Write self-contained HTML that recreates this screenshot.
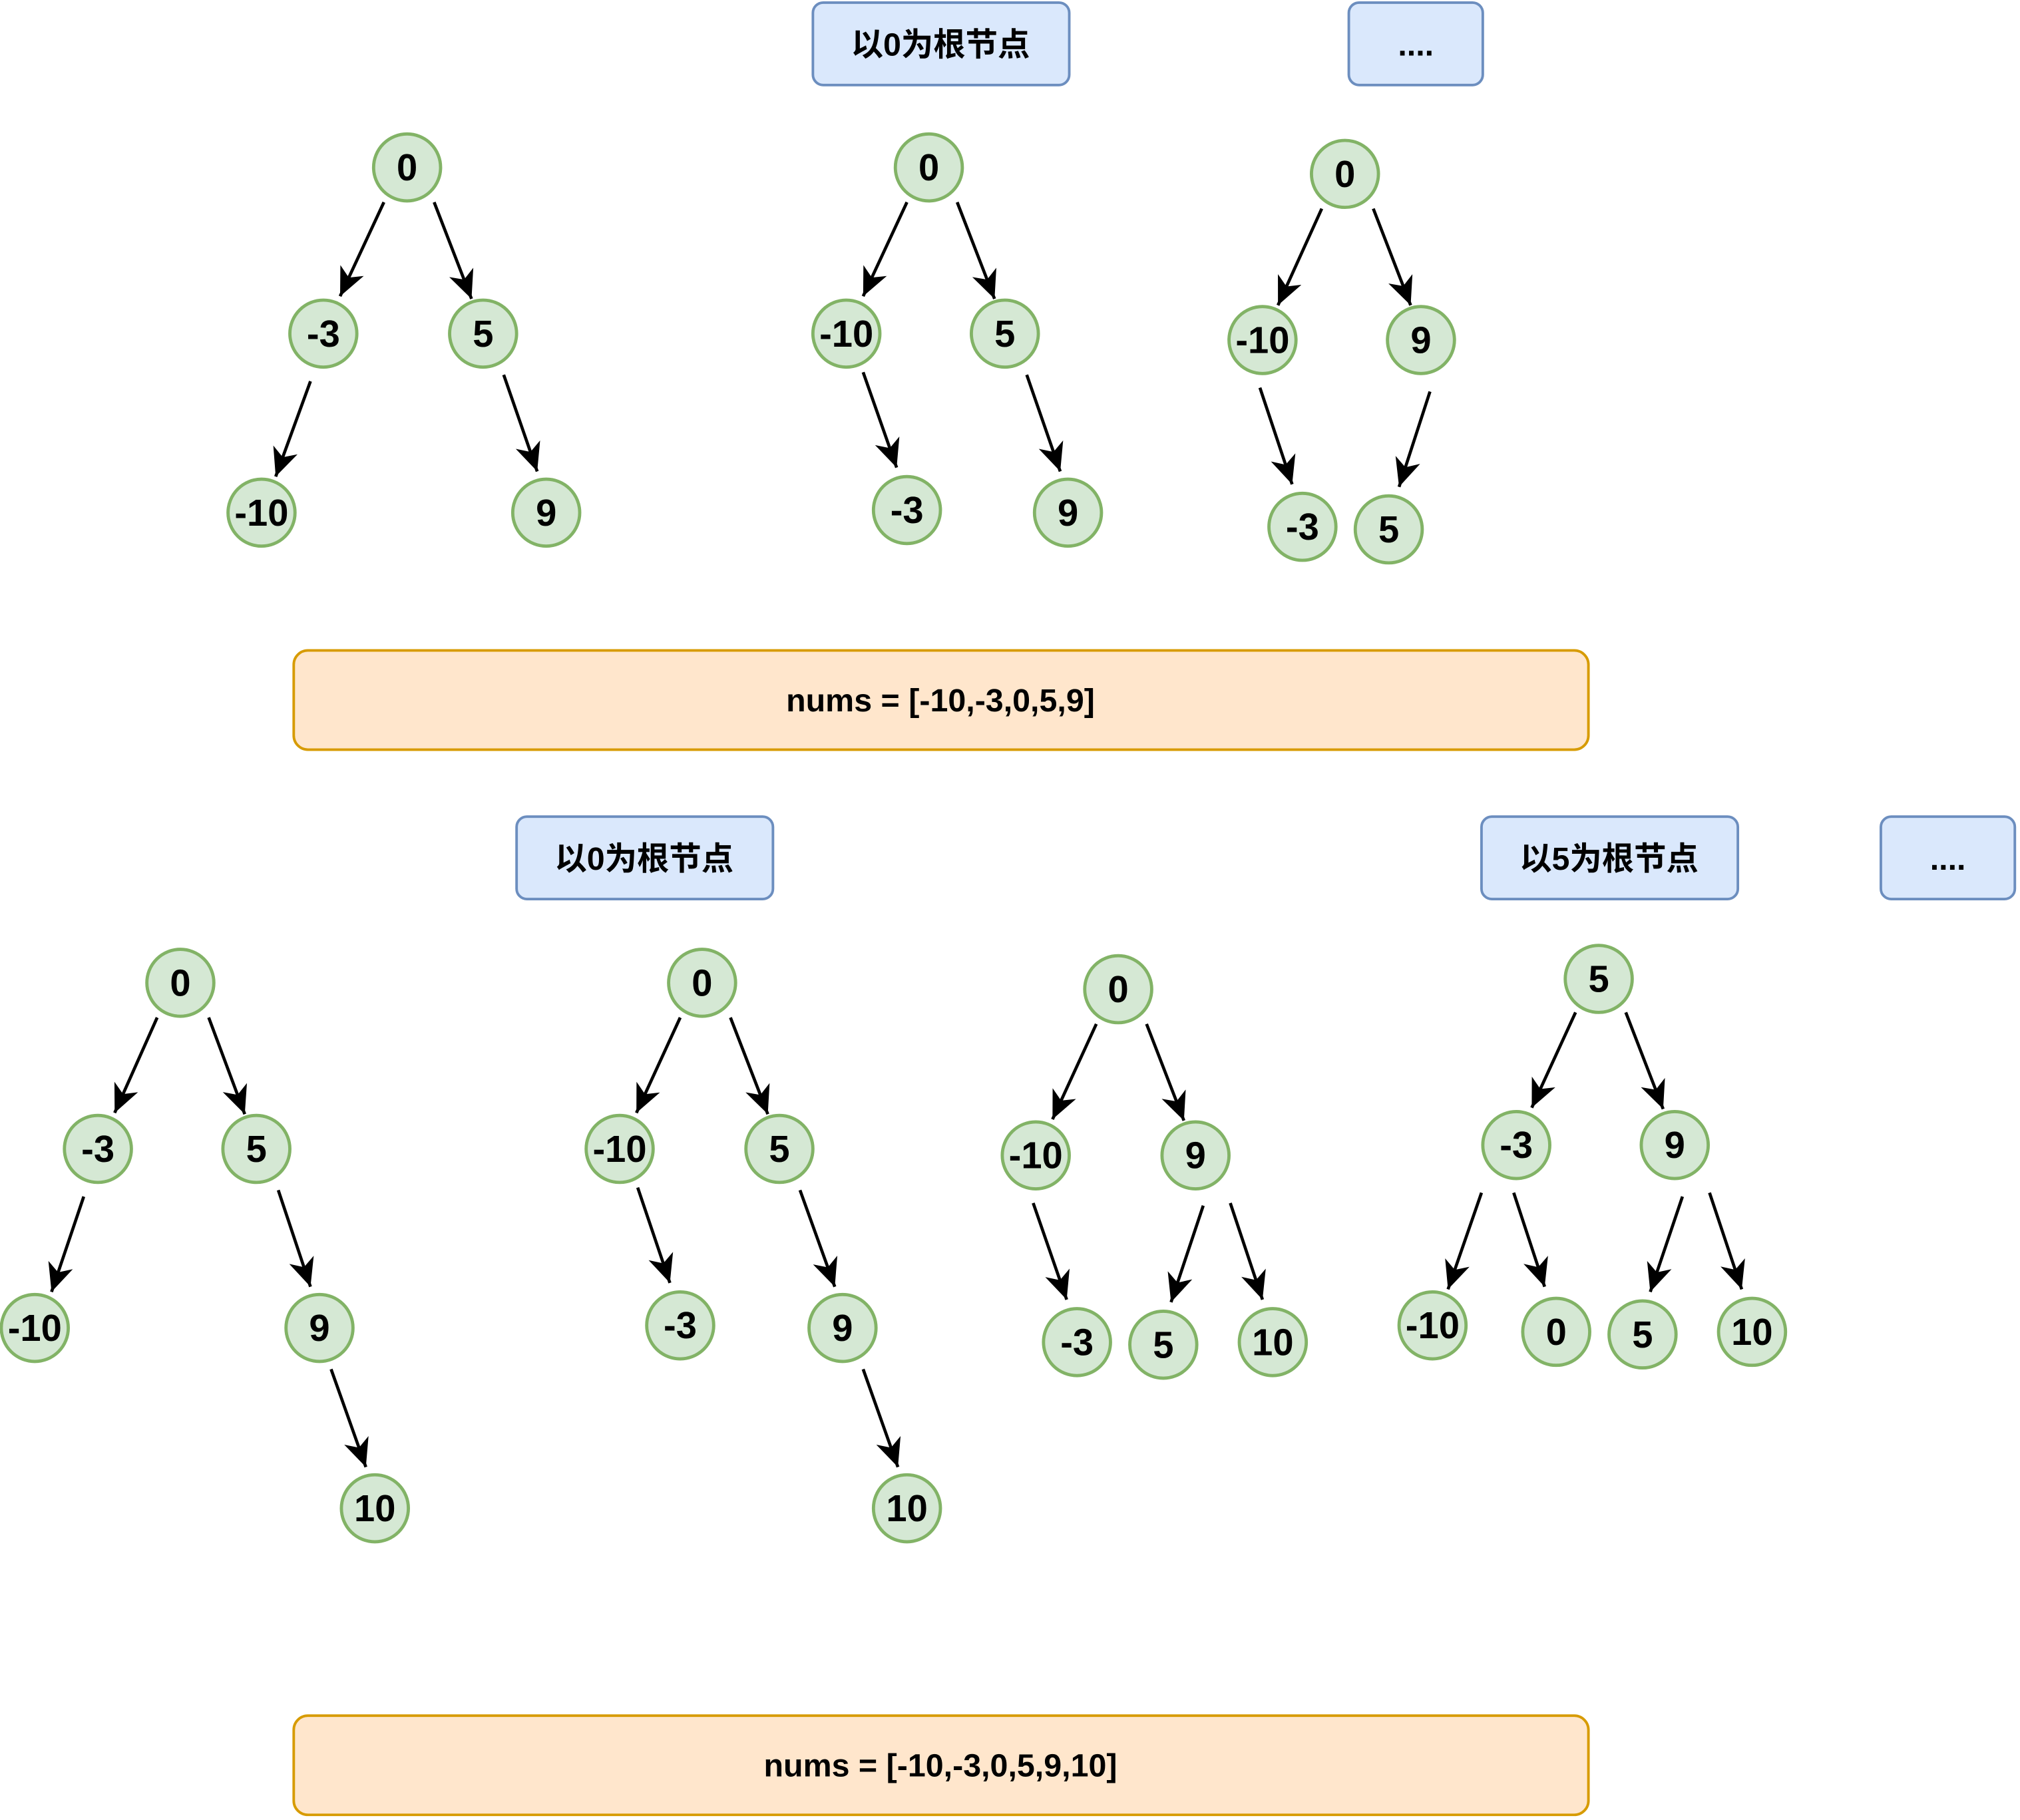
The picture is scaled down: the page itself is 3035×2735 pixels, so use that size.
<!DOCTYPE html>
<html><head><meta charset="utf-8"><style>
html,body{margin:0;padding:0;background:#fff;}
svg{display:block;}
text{font-family:"Liberation Sans","Noto Sans CJK SC",sans-serif;font-weight:bold;fill:#000;text-anchor:middle;dominant-baseline:central;}
.n{fill:#d5e8d4;stroke:#82b366;stroke-width:2.5;}
.b{fill:#dae8fc;stroke:#6c8ebf;stroke-width:2;}
.o{fill:#ffe6cc;stroke:#d79b00;stroke-width:2;}
.e{stroke:#000;stroke-width:2.4;marker-end:url(#ar);}
.nt{font-size:29px;}
.bt{font-size:25px;}
</style></head><body>
<svg width="3035" height="2735" viewBox="0 0 1568 1413" xmlns="http://www.w3.org/2000/svg">
<defs><marker id="ar" markerUnits="userSpaceOnUse" markerWidth="26" markerHeight="22" refX="22" refY="10" orient="auto" viewBox="0 0 26 22"><path d="M22,10 L0,0 L6,10 L0,20 Z" fill="#000"/></marker></defs>

<rect class="b" x="631" y="2" width="199" height="64" rx="8"/><text class="bt" x="730" y="35">以0为根节点</text>
<rect class="b" x="1047" y="2" width="104" height="64" rx="8"/><text class="bt" x="1099" y="35">....</text>
<rect class="o" x="228" y="505" width="1005" height="77" rx="11"/><text class="bt" x="730" y="544">nums = [-10,-3,0,5,9]</text>
<rect class="b" x="401" y="634" width="199" height="64" rx="8"/><text class="bt" x="500" y="667">以0为根节点</text>
<rect class="b" x="1150" y="634" width="199" height="64" rx="8"/><text class="bt" x="1249" y="667">以5为根节点</text>
<rect class="b" x="1460" y="634" width="104" height="64" rx="8"/><text class="bt" x="1512" y="667">....</text>
<rect class="o" x="228" y="1332" width="1005" height="77" rx="11"/><text class="bt" x="730" y="1371">nums = [-10,-3,0,5,9,10]</text>

<g>
<line class="e" x1="298" y1="157" x2="264" y2="230"/><line class="e" x1="337" y1="157" x2="366" y2="232"/>
<line class="e" x1="241" y1="296" x2="214" y2="370"/><line class="e" x1="391" y1="291" x2="417" y2="366"/>
<line class="e" x1="704" y1="157" x2="670" y2="230"/><line class="e" x1="743" y1="157" x2="772" y2="232"/>
<line class="e" x1="670" y1="289" x2="696" y2="363"/><line class="e" x1="797" y1="291" x2="823" y2="366"/>
<line class="e" x1="1026" y1="162" x2="992" y2="237"/><line class="e" x1="1066" y1="162" x2="1095" y2="237"/>
<line class="e" x1="978" y1="301" x2="1003" y2="376"/><line class="e" x1="1110" y1="304" x2="1086" y2="378"/>
<line class="e" x1="122" y1="790" x2="89" y2="864"/><line class="e" x1="162" y1="790" x2="190" y2="865"/>
<line class="e" x1="65" y1="929" x2="40" y2="1003"/><line class="e" x1="216" y1="924" x2="241" y2="999"/>
<line class="e" x1="257" y1="1063" x2="284" y2="1139"/>
<line class="e" x1="528" y1="790" x2="494" y2="864"/><line class="e" x1="567" y1="790" x2="596" y2="865"/>
<line class="e" x1="495" y1="922" x2="520" y2="996"/><line class="e" x1="621" y1="924" x2="648" y2="999"/>
<line class="e" x1="670" y1="1063" x2="697" y2="1139"/>
<line class="e" x1="851" y1="795" x2="817" y2="869"/><line class="e" x1="890" y1="795" x2="919" y2="870"/>
<line class="e" x1="802" y1="934" x2="828" y2="1009"/><line class="e" x1="934" y1="936" x2="909" y2="1011"/>
<line class="e" x1="955" y1="934" x2="980" y2="1009"/>
<line class="e" x1="1223" y1="786" x2="1189" y2="860"/><line class="e" x1="1262" y1="786" x2="1291" y2="861"/>
<line class="e" x1="1150" y1="926" x2="1124" y2="1001"/><line class="e" x1="1175" y1="926" x2="1199" y2="999"/>
<line class="e" x1="1306" y1="929" x2="1281" y2="1003"/><line class="e" x1="1327" y1="926" x2="1352" y2="1001"/>
</g>

<g>
<circle class="n" cx="316" cy="130" r="26"/><text class="nt" x="316" y="130">0</text>
<circle class="n" cx="251" cy="259" r="26"/><text class="nt" x="251" y="259">-3</text>
<circle class="n" cx="375" cy="259" r="26"/><text class="nt" x="375" y="259">5</text>
<circle class="n" cx="203" cy="398" r="26"/><text class="nt" x="203" y="398">-10</text>
<circle class="n" cx="424" cy="398" r="26"/><text class="nt" x="424" y="398">9</text>

<circle class="n" cx="721" cy="130" r="26"/><text class="nt" x="721" y="130">0</text>
<circle class="n" cx="657" cy="259" r="26"/><text class="nt" x="657" y="259">-10</text>
<circle class="n" cx="780" cy="259" r="26"/><text class="nt" x="780" y="259">5</text>
<circle class="n" cx="704" cy="396" r="26"/><text class="nt" x="704" y="396">-3</text>
<circle class="n" cx="829" cy="398" r="26"/><text class="nt" x="829" y="398">9</text>

<circle class="n" cx="1044" cy="135" r="26"/><text class="nt" x="1044" y="135">0</text>
<circle class="n" cx="980" cy="264" r="26"/><text class="nt" x="980" y="264">-10</text>
<circle class="n" cx="1103" cy="264" r="26"/><text class="nt" x="1103" y="264">9</text>
<circle class="n" cx="1011" cy="409" r="26"/><text class="nt" x="1011" y="409">-3</text>
<circle class="n" cx="1078" cy="411" r="26"/><text class="nt" x="1078" y="411">5</text>

<circle class="n" cx="140" cy="763" r="26"/><text class="nt" x="140" y="763">0</text>
<circle class="n" cx="76" cy="892" r="26"/><text class="nt" x="76" y="892">-3</text>
<circle class="n" cx="199" cy="892" r="26"/><text class="nt" x="199" y="892">5</text>
<circle class="n" cx="27" cy="1031" r="26"/><text class="nt" x="27" y="1031">-10</text>
<circle class="n" cx="248" cy="1031" r="26"/><text class="nt" x="248" y="1031">9</text>
<circle class="n" cx="291" cy="1171" r="26"/><text class="nt" x="291" y="1171">10</text>

<circle class="n" cx="545" cy="763" r="26"/><text class="nt" x="545" y="763">0</text>
<circle class="n" cx="481" cy="892" r="26"/><text class="nt" x="481" y="892">-10</text>
<circle class="n" cx="605" cy="892" r="26"/><text class="nt" x="605" y="892">5</text>
<circle class="n" cx="528" cy="1029" r="26"/><text class="nt" x="528" y="1029">-3</text>
<circle class="n" cx="654" cy="1031" r="26"/><text class="nt" x="654" y="1031">9</text>
<circle class="n" cx="704" cy="1171" r="26"/><text class="nt" x="704" y="1171">10</text>

<circle class="n" cx="868" cy="768" r="26"/><text class="nt" x="868" y="768">0</text>
<circle class="n" cx="804" cy="897" r="26"/><text class="nt" x="804" y="897">-10</text>
<circle class="n" cx="928" cy="897" r="26"/><text class="nt" x="928" y="897">9</text>
<circle class="n" cx="836" cy="1042" r="26"/><text class="nt" x="836" y="1042">-3</text>
<circle class="n" cx="903" cy="1044" r="26"/><text class="nt" x="903" y="1044">5</text>
<circle class="n" cx="988" cy="1042" r="26"/><text class="nt" x="988" y="1042">10</text>

<circle class="n" cx="1241" cy="760" r="26"/><text class="nt" x="1241" y="760">5</text>
<circle class="n" cx="1177" cy="889" r="26"/><text class="nt" x="1177" y="889">-3</text>
<circle class="n" cx="1300" cy="889" r="26"/><text class="nt" x="1300" y="889">9</text>
<circle class="n" cx="1112" cy="1029" r="26"/><text class="nt" x="1112" y="1029">-10</text>
<circle class="n" cx="1208" cy="1034" r="26"/><text class="nt" x="1208" y="1034">0</text>
<circle class="n" cx="1275" cy="1036" r="26"/><text class="nt" x="1275" y="1036">5</text>
<circle class="n" cx="1360" cy="1034" r="26"/><text class="nt" x="1360" y="1034">10</text>
</g>
</svg>
</body></html>
